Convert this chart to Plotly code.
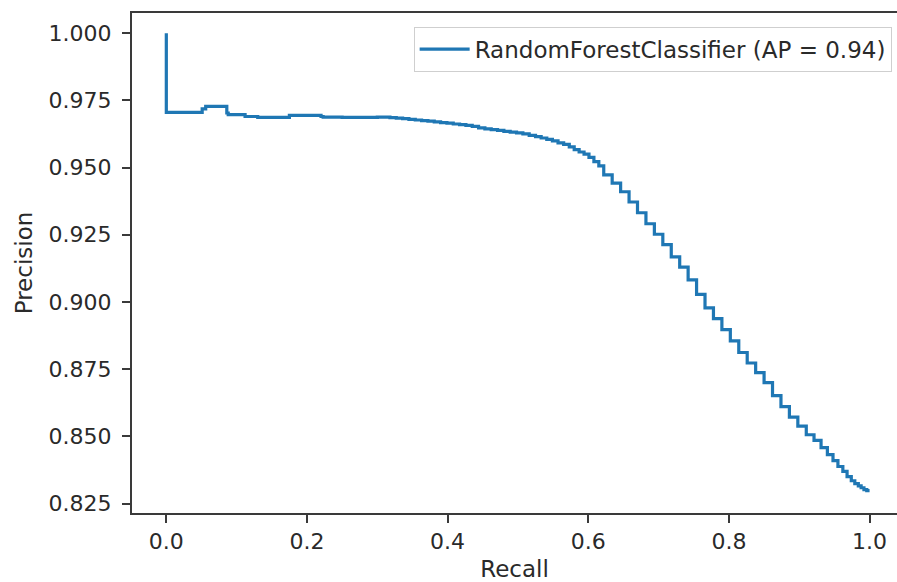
import plotly.graph_objects as go

recall = [0.0, 0.0, 0.051, 0.056, 0.062, 0.086, 0.088, 0.112, 0.130, 0.150, 0.175, 0.176,
          0.220, 0.223, 0.250, 0.300, 0.318, 0.327, 0.336, 0.345, 0.354, 0.363, 0.372,
          0.381, 0.390, 0.399, 0.408, 0.417, 0.426, 0.435, 0.444, 0.453, 0.462, 0.471,
          0.480, 0.489, 0.498, 0.507, 0.516, 0.525, 0.533, 0.541, 0.549, 0.557, 0.565,
          0.573, 0.580, 0.587, 0.594, 0.601, 0.608, 0.615, 0.622, 0.634, 0.646, 0.658,
          0.670, 0.682, 0.694, 0.706, 0.718, 0.730, 0.742, 0.754, 0.766, 0.778, 0.790,
          0.802, 0.814, 0.826, 0.838, 0.850, 0.862, 0.874, 0.886, 0.898, 0.910, 0.921,
          0.931, 0.940, 0.948, 0.955, 0.962, 0.968, 0.974, 0.979, 0.984, 0.988, 0.992,
          0.996, 1.000]
precision = [1.0, 0.9705, 0.9705, 0.9718, 0.9728, 0.9728, 0.9703, 0.9697, 0.9690, 0.9687,
             0.9687, 0.9694, 0.9694, 0.9690, 0.9688, 0.9687, 0.9688, 0.9686, 0.9684, 0.9682,
             0.9679, 0.9677, 0.9675, 0.9673, 0.9670, 0.9667, 0.9665, 0.9662, 0.9660, 0.9657,
             0.9653, 0.9648, 0.9644, 0.9641, 0.9638, 0.9635, 0.9632, 0.9629, 0.9625, 0.9620,
             0.9615, 0.9610, 0.9605, 0.9599, 0.9592, 0.9586, 0.9577, 0.9567, 0.9558, 0.9550,
             0.9538, 0.9522, 0.9506, 0.9473, 0.9442, 0.9410, 0.9372, 0.9332, 0.9291, 0.9252,
             0.9213, 0.9168, 0.9130, 0.9082, 0.9028, 0.8978, 0.8938, 0.8897, 0.8855, 0.8812,
             0.8773, 0.8737, 0.8700, 0.8652, 0.8611, 0.8572, 0.8538, 0.8506, 0.8485, 0.8458,
             0.8432, 0.8410, 0.8388, 0.8370, 0.8350, 0.8335, 0.8324, 0.8316, 0.8309, 0.8302,
             0.8298]

x_ticks = [0.0, 0.2, 0.4, 0.6, 0.8, 1.0]
y_ticks = [0.825, 0.850, 0.875, 0.900, 0.925, 0.950, 0.975, 1.000]
series_name = "RandomForestClassifier (AP = 0.94)"

FONT = "DejaVu Sans"
TXT = "#2a2a2a"

fig = go.Figure()
fig.add_trace(go.Scatter(
    x=recall, y=precision, mode="lines", name=series_name,
    line=dict(color="#1f77b4", width=3.2, shape="vh"),
    showlegend=True,
))

fig.update_layout(
    width=897, height=582,
    margin=dict(l=132, r=0, t=13, b=69),
    paper_bgcolor="white", plot_bgcolor="white",
    font=dict(family=FONT, size=22, color=TXT),
    showlegend=True,
    legend=dict(
        x=0.993, y=0.9726, xanchor="right", yanchor="top",
        bgcolor="white", bordercolor="#cfcfcf", borderwidth=1,
        font=dict(family=FONT, size=23, color=TXT),
        itemwidth=50,
    ),
    xaxis=dict(
        range=[-0.0488, 1.039], tickvals=x_ticks, tickformat=".1f",
        showgrid=False, zeroline=False,
        showline=True, linecolor="#3a3a3a", linewidth=2, mirror=True,
        ticks="outside", ticklen=8, tickwidth=1.6, tickcolor="#3a3a3a",
        tickfont=dict(size=22),
        title=dict(text="Recall", font=dict(size=23, family=FONT, color=TXT), standoff=8),
    ),
    yaxis=dict(
        range=[0.8215, 1.0075], tickvals=y_ticks, tickformat=".3f",
        showgrid=False, zeroline=False,
        showline=True, linecolor="#3a3a3a", linewidth=2, mirror=False,
        ticks="outside", ticklen=8, tickwidth=1.6, tickcolor="#3a3a3a",
        ticklabelstandoff=6, tickfont=dict(size=22),
        title=dict(text="Precision", font=dict(size=23, family=FONT, color=TXT), standoff=10),
    ),
)

fig.write_html("out.html")
